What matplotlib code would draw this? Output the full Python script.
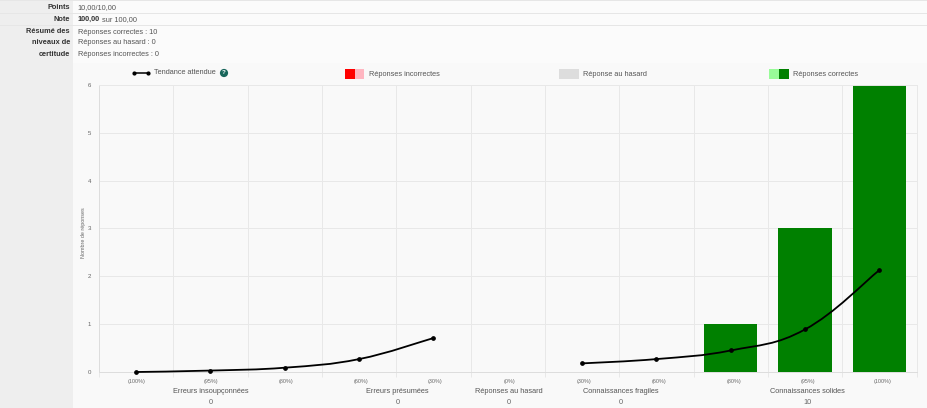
import matplotlib
matplotlib.use("Agg")
import matplotlib.pyplot as plt
import numpy as np
from matplotlib.patches import PathPatch, Rectangle
from matplotlib.path import Path
from matplotlib.transforms import ScaledTranslation

plt.rcParams["font.family"] = ["Liberation Sans", "DejaVu Sans"]

W, H = 927, 408

# data
certainty = ["(100%)", "(95%)", "(80%)", "(60%)", "(30%)", "(0%)",
             "(30%)", "(60%)", "(80%)", "(95%)", "(100%)"]
correct = [0, 0, 0, 0, 0, 0, 0, 0, 1, 3, 6]
# None splits the expected trend in two pieces
expected = [0.0, 0.03, 0.09, 0.27, 0.71, None, 0.18, 0.27, 0.45, 0.89, 2.13]
group_names = ["Erreurs insoupçonnées", "Erreurs présumées", "Réponses au hasard",
               "Connaissances fragiles", "Connaissances solides"]
group_members = [[0, 1, 2], [3, 4], [5], [6, 7], [8, 9, 10]]
group_counts = [0, 0, 0, 0, 10]
yticks = [0, 1, 2, 3, 4, 5, 6]

TEXT = "#666666"
GRID = "#e8e8e8"
FS = 5.35
LABEL_DRIFT = 0.3  # px per category, x labels drift a little from the ticks in the original


def px_rect(x, y, w, h, **kw):
    """Rectangle given in image pixels, origin top-left."""
    fig.add_artist(Rectangle((x / W, 1 - (y + h) / H), w / W, h / H,
                             transform=fig.transFigure, lw=0, **kw))


def px_text(x, y, s, **kw):
    kw.setdefault("color", "#555555")
    kw.setdefault("fontsize", FS)
    kw.setdefault("va", "center")
    fig.text(x / W, 1 - y / H, s, **kw)


def smooth_path(xs, ys, tension=0.4):
    """Cubic bezier through the points, same idea as chart.js line tension."""
    verts = [(xs[0], ys[0])]
    codes = [Path.MOVETO]
    n = len(xs)
    for i in range(n - 1):
        x0, y0 = (xs[i - 1], ys[i - 1]) if i > 0 else (xs[i], ys[i])
        x3, y3 = (xs[i + 2], ys[i + 2]) if i + 2 < n else (xs[i + 1], ys[i + 1])
        c1 = (xs[i] + (xs[i + 1] - x0) * tension / 2, ys[i] + (ys[i + 1] - y0) * tension / 2)
        c2 = (xs[i + 1] - (x3 - xs[i]) * tension / 2, ys[i + 1] - (y3 - ys[i]) * tension / 2)
        verts += [c1, c2, (xs[i + 1], ys[i + 1])]
        codes += [Path.CURVE4] * 3
    return Path(verts, codes)


def nudge(dx_px):
    return ScaledTranslation(dx_px / 100, 0, fig.dpi_scale_trans)


fig = plt.figure(figsize=(W / 100, H / 100), dpi=100, facecolor="#f9f9f9")

# page around the chart
px_rect(0, 0, 73, H, color="#eeeeee", zorder=-5)
px_rect(73, 0, W - 73, 63, color="#fbfbfb", zorder=-5)
for y in (0, 13, 25):
    px_rect(0, y, W, 1, color="#e6e6e6", zorder=-4)

for y, s in zip((7.5, 19.5, 31.5, 43, 54.5), ("Points", "Note", "Résumé des", "niveaux de", "certitude")):
    px_text(70, y, s, ha="right", fontweight="bold", color="#333333")
px_text(77.5, 7.5, "10,00/10,00")
px_text(77.5, 19.5, "100,00", fontweight="bold", color="#333333")
px_text(102, 19.5, "sur 100,00")
px_text(77.5, 32, "Réponses correctes : 10")
px_text(77.5, 43, "Réponses au hasard : 0")
px_text(77.5, 54.5, "Réponses incorrectes : 0")

# chart
ax = fig.add_axes([99 / W, 1 - 372 / H, (916.5 - 99) / W, (372 - 85) / H])
ax.set_facecolor("none")
pos = np.arange(len(certainty))
ax.bar(pos, correct, width=0.715, color="#008000", zorder=2)

trend = np.array([np.nan if v is None else v for v in expected])
for part in np.split(pos, np.where(np.isnan(trend))[0]):
    part = part[~np.isnan(trend[part])]
    ax.add_patch(PathPatch(smooth_path(part.astype(float), trend[part]), fc="none",
                           ec="black", lw=1.3, zorder=3, clip_on=False))
    ax.plot(part, trend[part], ls="none", marker="o", ms=2.4, color="black", zorder=4, clip_on=False)

ax.set_xlim(-0.5, len(certainty) - 0.5)
ax.set_ylim(0, 6)
ax.set_yticks(yticks)
ax.set_xticks(pos)
ax.set_xticklabels(certainty, fontsize=3.9, color=TEXT)
ax.set_xticks(np.r_[pos - 0.5, pos[-1] + 0.5], minor=True)
ax.tick_params(axis="x", which="major", length=0, pad=5)
ax.tick_params(axis="x", which="minor", length=3.5, color=GRID, width=0.7)
ax.tick_params(axis="y", length=0, pad=5.5, labelsize=4.4, labelcolor=TEXT)
ax.grid(True, which="minor", axis="x", color=GRID, lw=0.7, zorder=0)
ax.grid(True, which="major", axis="y", color=GRID, lw=0.7, zorder=0)
ax.set_axisbelow(True)
for i, lab in enumerate(ax.get_xticklabels()):
    lab.set_transform(lab.get_transform() + nudge(LABEL_DRIFT * i + 0.5))
for side in ("top", "right"):
    ax.spines[side].set_color(GRID)
    ax.spines[side].set_linewidth(0.7)
for side in ("left", "bottom"):
    ax.spines[side].set_color("#dddddd")
    ax.spines[side].set_linewidth(0.7)
ax.set_ylabel("Nombre de réponses", fontsize=3.9, color=TEXT, labelpad=1, y=0.486)

# group labels, centred on their members
blend = ax.get_xaxis_transform()
for name, members, count in zip(group_names, group_members, group_counts):
    cx = np.mean(members)
    shifted = blend + nudge(LABEL_DRIFT * cx)
    ax.text(cx, -19.5 / 287, name, transform=shifted, ha="center", va="center", fontsize=FS, color="#555555")
    ax.text(cx, -30.5 / 287, str(count), transform=shifted, ha="center", va="center", fontsize=FS, color=TEXT)

# legend
fig.add_artist(plt.Line2D([133.5 / W, 148 / W], [1 - 72.5 / H] * 2, color="black", lw=1.1,
                          marker="o", ms=2, transform=fig.transFigure))
px_text(154.5, 73, "Tendance attendue")
fig.add_artist(plt.Circle((224, H - 73), 3.4, color="#17655a", transform=None))
px_text(224, 73, "?", ha="center", fontsize=4.6, color="white", fontweight="bold")

px_rect(345, 69, 10, 10, color="#ff0000")
px_rect(355, 69, 9, 10, color="#ffb6c1")
px_text(369, 74.5, "Réponses incorrectes")
px_rect(559, 69, 20, 10, color="#dddddd")
px_text(583, 74.5, "Réponse au hasard")
px_rect(769, 69, 10, 10, color="#98fb98")
px_rect(779, 69, 10, 10, color="#008000")
px_text(793, 74.5, "Réponses correctes")

fig.savefig("out.png", dpi=100, facecolor=fig.get_facecolor())
